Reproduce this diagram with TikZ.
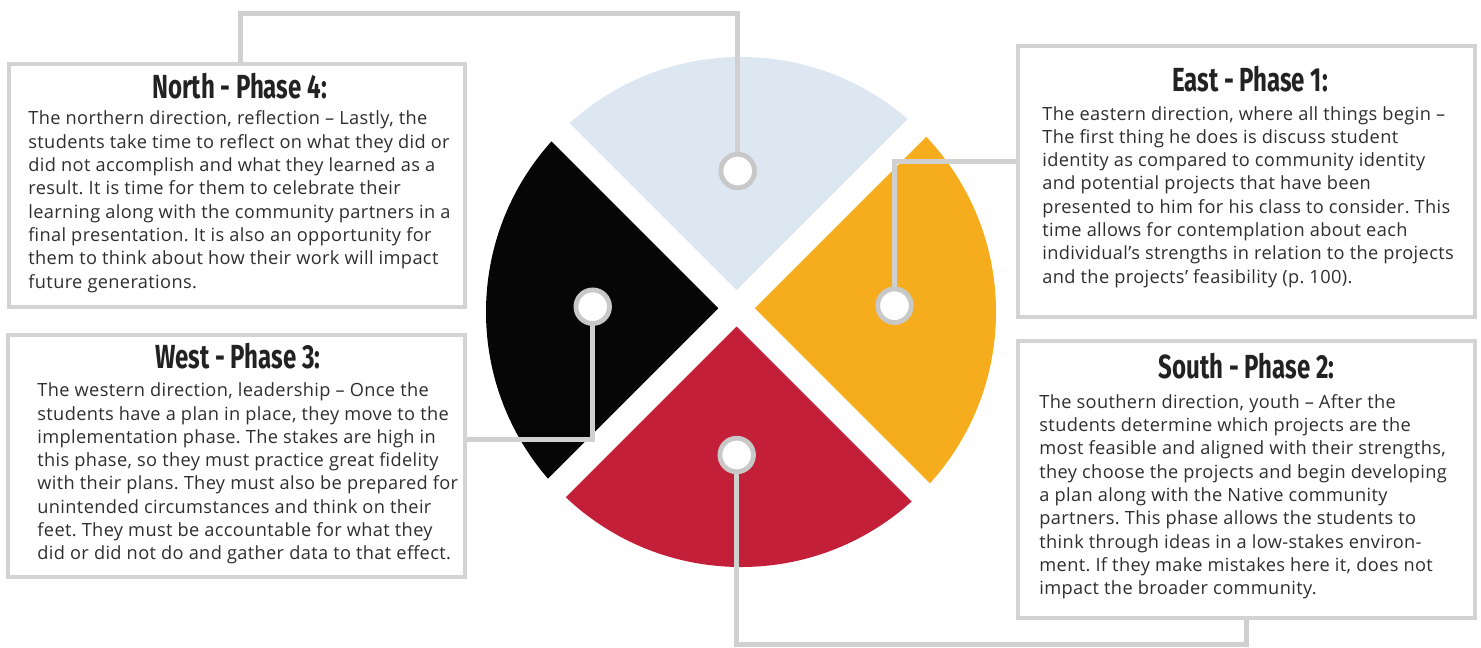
\documentclass[tikz,border=0pt]{standalone}
\usepackage{fontspec}
\setmainfont[LetterSpace=2]{Open Sans}
\newfontfamily\titlefont[FakeStretch=0.72]{Fira Sans}
\definecolor{lineg}{HTML}{D0D0D0}
\definecolor{boxg}{HTML}{D3D3D3}
\definecolor{markg}{HTML}{C8C8C8}
\definecolor{skyc}{HTML}{DCE7F2}
\definecolor{ornc}{HTML}{F6AD1D}
\definecolor{redc}{HTML}{C41F39}
\definecolor{blkc}{HTML}{060606}
\definecolor{txtc}{HTML}{2E2E2E}
\definecolor{ttlc}{HTML}{222222}
\frenchspacing
\newcommand\bodylines[1]{\vtop{\fontsize{9.1pt}{11.65pt}\selectfont\frenchspacing #1}}
\tikzset{
  panel/.style={draw=boxg, line width=2pt, fill=none, inner sep=0pt},
  ttl/.style={text=ttlc, inner sep=0pt, anchor=base, font=\titlefont\bfseries\fontsize{16.7pt}{18pt}\selectfont},
  bodyt/.style={text=txtc, inner sep=0pt, anchor=base west},
  link/.style={draw=lineg, line width=2.5pt},
  marker/.style={circle, draw=markg, fill=white, line width=2.4pt, minimum size=16.8pt, inner sep=0pt}
}
\begin{document}
\begin{tikzpicture}[x=0.5pt, y=-0.5pt]
\useasboundingbox (0,0) rectangle (1481,647);
% wheel
\begin{scope}
  \clip (741,312) circle (127.5pt);
  \fill[skyc] (736.6,289.9) -- (336.6,-110.1) -- (1136.6,-110.1) -- cycle;
  \fill[ornc] (754.9,308.2) -- (1154.9,-91.8) -- (1154.9,708.2) -- cycle;
  \fill[redc] (736.6,326.5) -- (336.6,726.5) -- (1136.6,726.5) -- cycle;
  \fill[blkc] (718.3,308.2) -- (318.3,-91.8) -- (318.3,708.2) -- cycle;
\end{scope}
% panels
\node[panel, minimum width=228pt, minimum height=121pt] (N) at (237,185.5) {};
\node[panel, minimum width=228.5pt, minimum height=135.5pt] (E) at (1246.5,181.5) {};
\node[panel, minimum width=228.5pt, minimum height=121pt] (W) at (236.5,456) {};
\node[panel, minimum width=228.5pt, minimum height=138.5pt] (S) at (1246.5,479.5) {};
% markers (positions)
\coordinate (mNc) at (737.7,171);
\coordinate (mEc) at (894.5,305.7);
\coordinate (mWc) at (592.7,306.7);
\coordinate (mSc) at (736.7,455);
% connectors
\draw[link] (240,0 |- N.north) -- (240,14) -- (737.7,14) -- (mNc);
\draw[link] (mEc) -- (894.5,161.7) -- (E.west |- 0,161.7);
\draw[link] (mWc) -- (592.7,439) -- (W.east |- 0,439);
\draw[link] (mSc) -- (736.7,644) -- (1246.7,644) -- (1246.7,0 |- S.south);
\node[marker] (mN) at (mNc) {};
\node[marker] (mE) at (mEc) {};
\node[marker] (mW) at (mWc) {};
\node[marker] (mS) at (mSc) {};
% titles
\node[ttl] (hN) at (239.5,98.3) {North - Phase 4:};
\node[ttl] (hE) at (1250,91.7) {East - Phase 1:};
\node[ttl] (hW) at (238,368.3) {West - Phase 3:};
\node[ttl] (hS) at (1246.5,378.3) {South - Phase 2:};
% body texts
\node[bodyt] (tN) at (28,125) {\bodylines{%
\hbox{The northern direction, reflection – Lastly, the}
\hbox{students take time to reflect on what they did or}
\hbox{did not accomplish and what they learned as a}
\hbox{result. It is time for them to celebrate their}
\hbox{learning along with the community partners in a}
\hbox{final presentation. It is also an opportunity for}
\hbox{them to think about how their work will impact}
\hbox{future generations.}}};
\node[bodyt] (tE) at (1042,120) {\bodylines{%
\hbox{The eastern direction, where all things begin –}
\hbox{The first thing he does is discuss student}
\hbox{identity as compared to community identity}
\hbox{and potential projects that have been}
\hbox{presented to him for his class to consider. This}
\hbox{time allows for contemplation about each}
\hbox{individual’s strengths in relation to the projects}
\hbox{and the projects’ feasibility (p. 100).}}};
\node[bodyt] (tW) at (37,396.7) {\bodylines{%
\hbox{The western direction, leadership – Once the}
\hbox{students have a plan in place, they move to the}
\hbox{implementation phase. The stakes are high in}
\hbox{this phase, so they must practice great fidelity}
\hbox{with their plans. They must also be prepared for}
\hbox{unintended circumstances and think on their}
\hbox{feet. They must be accountable for what they}
\hbox{did or did not do and gather data to that effect.}}};
\node[bodyt] (tS) at (1039,408.3) {\bodylines{%
\hbox{The southern direction, youth – After the}
\hbox{students determine which projects are the}
\hbox{most feasible and aligned with their strengths,}
\hbox{they choose the projects and begin developing}
\hbox{a plan along with the Native community}
\hbox{partners. This phase allows the students to}
\hbox{think through ideas in a low-stakes environ-}
\hbox{ment. If they make mistakes here it, does not}
\hbox{impact the broader community.}}};
\end{tikzpicture}
\end{document}
